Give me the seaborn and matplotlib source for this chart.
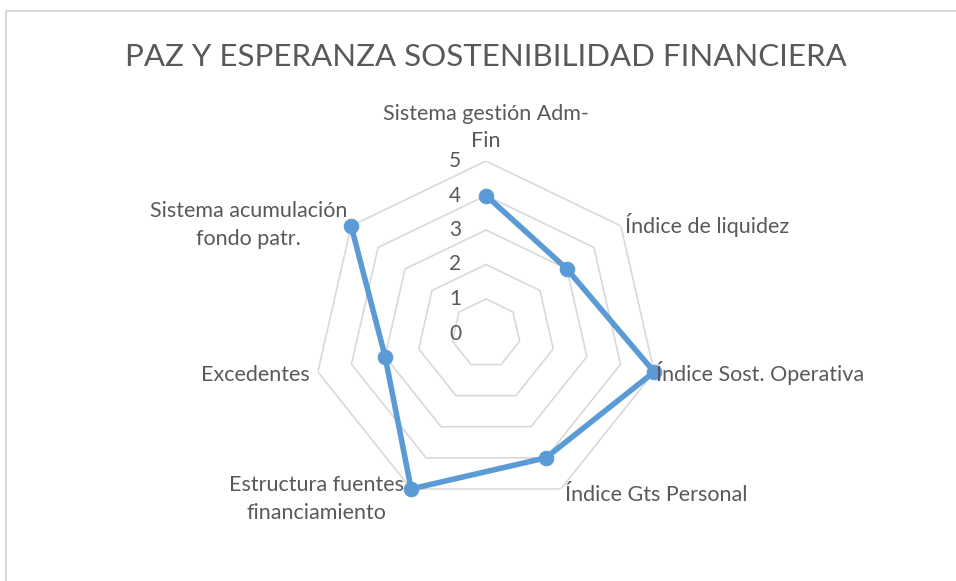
import numpy as np
import matplotlib
matplotlib.use("Agg")
import matplotlib.pyplot as plt
import matplotlib.transforms as mtransforms
import seaborn as sns
from matplotlib.patches import Rectangle

# Datos del gráfico radar
categorias = ["Sistema gestión Adm-\nFin", "Índice de liquidez", "Índice Sost. Operativa",
              "Índice Gts Personal", "Estructura fuentes\nfinanciamiento", "Excedentes",
              "Sistema acumulación\nfondo patr."]
valores = [4, 3, 5, 4, 5, 3, 5]
niveles = [0, 1, 2, 3, 4, 5]
titulo = "PAZ Y ESPERANZA SOSTENIBILIDAD FINANCIERA"

color_serie = "#5B9BD5"
color_grid = "#D9D9D9"
color_texto = "#595959"

sns.set_style("white")
plt.rcParams["font.family"] = ["Lato", "DejaVu Sans"]

fig = plt.figure(figsize=(9.56, 5.81), dpi=100)
W, H = 956, 581

# marco del gráfico (solo se ven borde superior e izquierdo)
fig.patches.append(Rectangle((6 / W, -0.1), 1.2, (H - 11) / H + 0.1, transform=fig.transFigure,
                             fill=False, edgecolor="#D9D9D9", linewidth=1.5))

# eje polar centrado en (486, 333) px, radio 172 px
cx, cy, rad = 486, 333.5, 172.5
ax = fig.add_axes([(cx - rad) / W, (H - cy - rad) / H, 2 * rad / W, 2 * rad / H], projection="polar")
ax.set_theta_offset(np.pi / 2)
ax.set_theta_direction(-1)
ax.set_ylim(0, 5)
ax.grid(False)
ax.spines["polar"].set_visible(False)
ax.set_xticks([])
ax.set_yticks([])
ax.patch.set_alpha(0)

n = len(categorias)
angulos = np.linspace(0, 2 * np.pi, n, endpoint=False)
ang_cerr = np.append(angulos, angulos[0])

# anillos heptagonales
for r in niveles[1:]:
    ax.plot(ang_cerr, [r] * (n + 1), color=color_grid, linewidth=1.2, zorder=1)

# serie
sns.lineplot(x=ang_cerr, y=np.append(valores, valores[0]), ax=ax, sort=False,
             color=color_serie, linewidth=4, marker="o", markersize=10.5,
             markeredgecolor=color_serie, zorder=3, clip_on=False)

# etiquetas del eje de valores, a la izquierda del eje vertical
off = mtransforms.ScaledTranslation(-31 / 100, 0, fig.dpi_scale_trans)
for r in niveles:
    ax.text(0, r, str(r), transform=ax.transData + off, ha="center", va="center",
            fontsize=15, color=color_texto)

# etiquetas de categorías
alin = [("center", "bottom", 0, 10),
        ("left", "center", 4, 1),
        ("left", "center", 2, -1),
        ("left", "top", 4, 4),
        ("right", "center", -7, -10),
        ("right", "center", -8, -3),
        ("right", "center", -4, 1)]
for a, cat, (ha, va, dx, dy) in zip(angulos, categorias, alin):
    tr = ax.transData + mtransforms.ScaledTranslation(dx / 100, dy / 100, fig.dpi_scale_trans)
    ax.text(a, 5, cat, transform=tr, ha=ha, va=va, multialignment="center",
            fontsize=15.5, color=color_texto, linespacing=1.45)

fig.text(cx / W, 1 - 57 / H, titulo, ha="center", va="center", fontsize=22.5,
         color=color_texto)

fig.savefig("out.png", dpi=100, facecolor="white")
